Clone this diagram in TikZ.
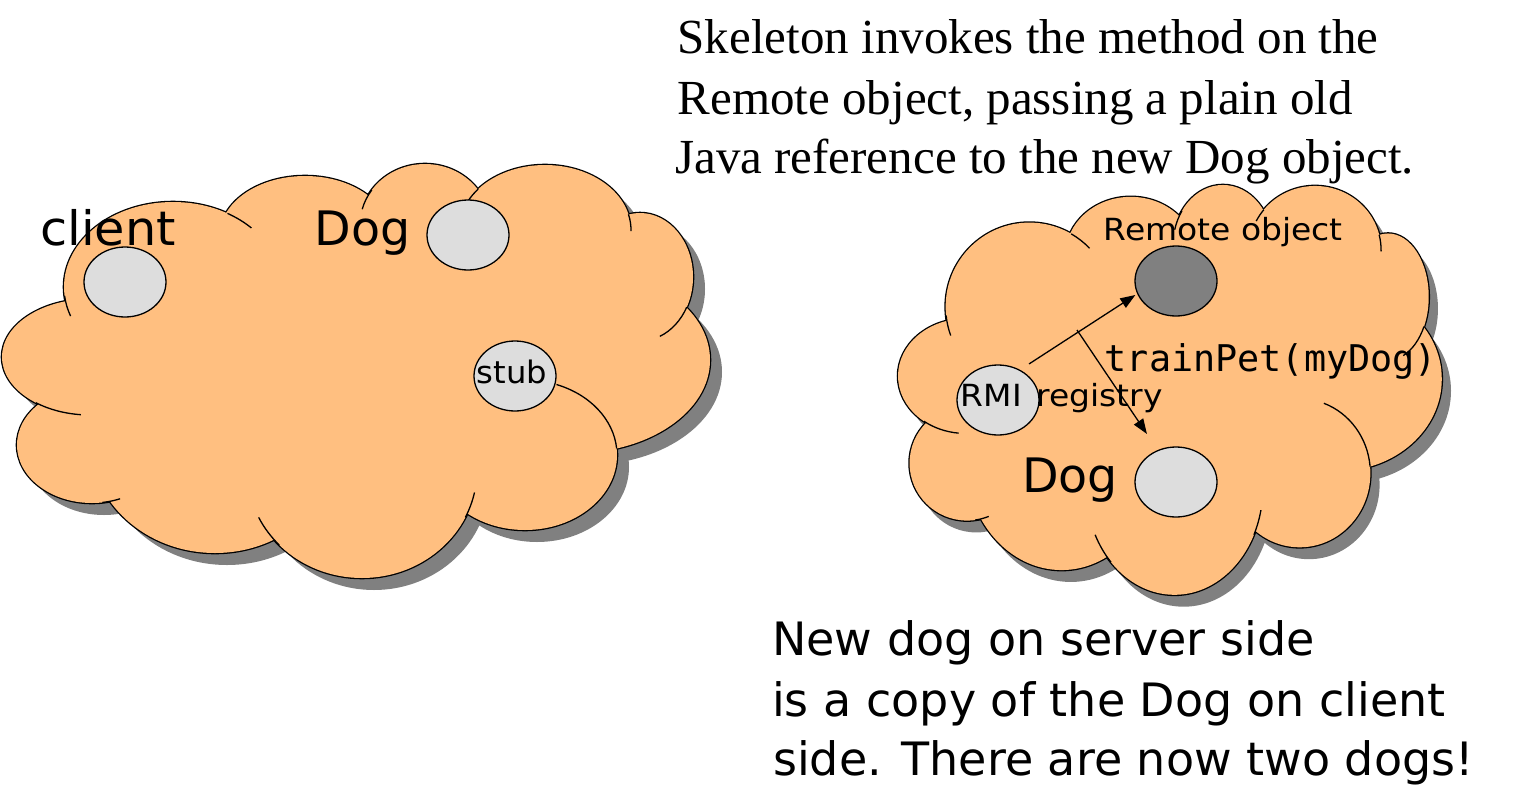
\documentclass[tikz,border=0pt]{standalone}
\usepackage{fontspec}
\setmainfont{Liberation Serif}
\newfontfamily\vsans{DejaVu Sans}
\newfontfamily\vsansc[FakeStretch=1.04]{DejaVu Sans}
\newfontfamily\vsansw[FakeStretch=1.08]{DejaVu Sans}
\newfontfamily\vmono{DejaVu Sans Mono}
\usetikzlibrary{shapes.geometric,arrows.meta}
\definecolor{cloudfill}{HTML}{FFBF80}
\definecolor{shadowgray}{HTML}{808080}
\definecolor{ellgray}{HTML}{DDDDDD}
\definecolor{darkell}{HTML}{808080}
% bumps of the cloud, in the left cloud's pixel space (y downwards -> negative)
\newcommand\cloudbumps{%
(173,-287) ellipse[x radius=109,y radius=85]
(305,-235) ellipse[x radius=85,y radius=59]
(425,-225) ellipse[x radius=65,y radius=61]
(545,-230) ellipse[x radius=86,y radius=65]
(640,-277) ellipse[x radius=53,y radius=64]
(575,-360) ellipse[x radius=135,y radius=93]
(525,-455) ellipse[x radius=92,y radius=75]
(362,-470) ellipse[x radius=115,y radius=108]
(215,-440) ellipse[x radius=125,y radius=113]
(92,-445) ellipse[x radius=75,y radius=58]
(90,-357) ellipse[x radius=88,y radius=58]
(350,-370) ellipse[x radius=250,y radius=140]}
\newcommand\cloudtail[6]{%
\draw[cloudline] ([shift={(#5:#3 and #4)}]#1,-#2) arc[start angle=#5,end angle=#6,x radius=#3,y radius=#4];}
\newcommand\cloudbody{%
\fill[shadowgray,shift={(12,-12)}] \cloudbumps;
\draw[line width=2.6pt] \cloudbumps;
\fill[cloudfill] \cloudbumps;
\cloudtail{173}{287}{109}{85}{186}{200}
\cloudtail{173}{287}{109}{85}{44}{60}
\cloudtail{425}{225}{65}{61}{145}{165}
\cloudtail{545}{230}{86}{65}{141}{153}
\cloudtail{545}{230}{86}{65}{-1}{14}
\cloudtail{640}{277}{53}{64}{-68}{-28}
\cloudtail{525}{455}{92}{75}{5}{70}
\cloudtail{362}{470}{115}{108}{-26}{-12}
\cloudtail{92}{445}{75}{58}{-82}{-68}
\cloudtail{362}{470}{115}{108}{206}{224}
\cloudtail{90}{357}{88}{58}{232}{264}}
\begin{document}
\begin{tikzpicture}[x=1pt,y=1pt,
  cloudline/.style={line width=1.3pt},
  blob/.style={ellipse,draw,line width=1.3pt,fill=ellgray,minimum width=82pt,minimum height=70pt,inner sep=0pt},
  txt/.style={inner sep=0pt,anchor=base west},
  bigsans/.style={font=\vsans\fontsize{47.5}{57}\selectfont},
  smallsans/.style={font=\vsansw\fontsize{30.5}{36}\selectfont},
  topserif/.style={font=\fontsize{49}{58}\selectfont},
  bottomsans/.style={font=\vsans\fontsize{46}{56}\selectfont},
  conn/.style={line width=1.3pt,-{Triangle[length=15pt,width=11pt]}}]
\useasboundingbox (0,0) rectangle (1513,-795);
% left cloud
\begin{scope}
\cloudbody
\end{scope}
% right cloud
\begin{scope}[shift={(896.5,-22.6)},xscale=0.768,yscale=0.99]
\cloudbody
\end{scope}
% objects
\node[blob] (client) at (125,-282) {};
\node[blob] (dogl) at (468,-235) {};
\node[blob] (stub) at (515,-376) {};
\node[blob,fill=darkell] (remote) at (1176,-281) {};
\node[blob] (rmi) at (998,-400) {};
\node[blob] (dogr) at (1176,-482) {};
% labels
\node[txt,font=\vsansc\fontsize{47.5}{57}\selectfont] (clientlbl) at (40,-245) {client};
\node[txt,bigsans] (dogllbl) at (314.5,-245) {Dog};
\node[txt,font=\vsansc\fontsize{31}{36}\selectfont] (stublbl) at (476.6,-383.3) {stub};
\node[txt,smallsans] (remotelbl) at (1103.5,-240) {Remote object};
\node[txt,font=\vsansw\fontsize{30.5}{36}\selectfont] (rmilbl) at (960.5,-406.7) {RMI\hspace{4pt} registry};
\node[txt,bigsans] (dogrlbl) at (1022,-492.7) {Dog};
\node[txt,font=\vmono\fontsize{36.8}{42}\selectfont] (call) at (1104.5,-371.7) {trainPet(myDog)};
% connectors
\coordinate (split) at (1077,-330);
\draw[conn] ([shift={(4,9)}]rmi.45) -- ([shift={(1,-14)}]remote.west);
\draw[conn] (split) -- ([shift={(-2,21)}]dogr.135);
% top text
\node[txt,topserif] (t1) at (677.5,-53.5) {Skeleton invokes the method on the};
\node[txt,topserif] (t2) at (677.5,-114) {Remote object, passing a plain old};
\node[txt,topserif] (t3) at (675,-173.5) {Java reference to the new Dog object.};
% bottom text
\node[txt,bottomsans] (b1) at (772,-655) {New dog on server side};
\node[txt,bottomsans] (b2) at (772,-716) {is a copy of the Dog on client};
\node[txt,bottomsans] (b3) at (773,-775) {side. There are now two dogs!};
\end{tikzpicture}
\end{document}
